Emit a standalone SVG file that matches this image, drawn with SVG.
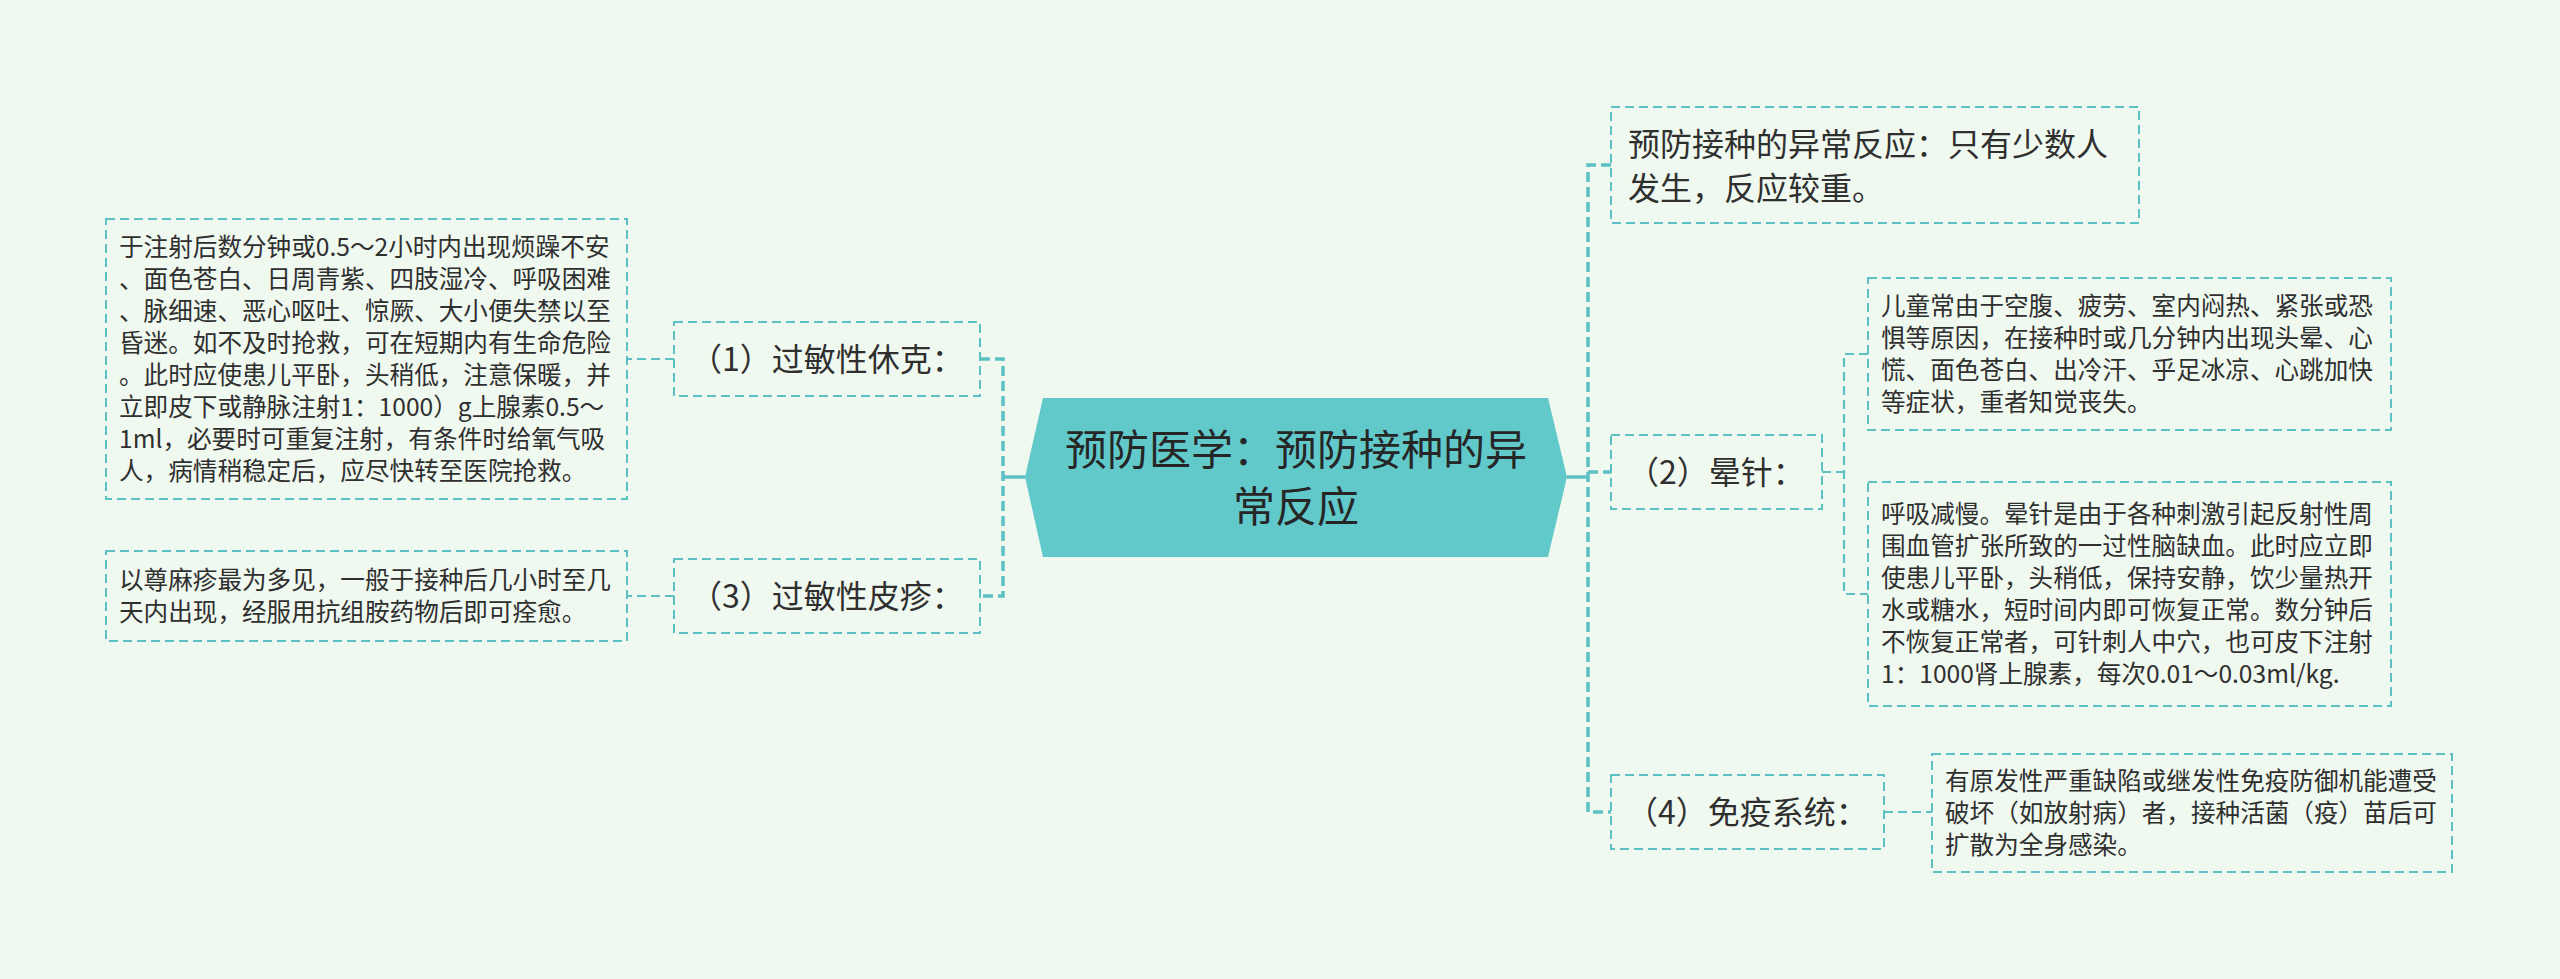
<svg xmlns="http://www.w3.org/2000/svg" width="2560" height="979" viewBox="0 0 2560 979">
<style>
.bg{fill:#f0f9ef}
.box{fill:none;stroke:#5cc0c4;stroke-width:2;stroke-dasharray:9 5}
.t{font-family:"Noto Sans CJK SC","Noto Sans",sans-serif;fill:#2f2f2f}
.leaf{font-size:24.6px}
.l1{font-size:32px}
.c{font-size:42px;text-anchor:middle;fill:#262626}
.m{text-anchor:middle}
.trunk{fill:none;stroke:#5cc0c4;stroke-width:3.5;stroke-dasharray:10 5}
.thin{fill:none;stroke:#5cc0c4;stroke-width:2.2;stroke-dasharray:9 5}
.solid{fill:none;stroke:#5cc0c4;stroke-width:3.5}
</style>
<rect class="bg" x="0" y="0" width="2560" height="979"/>
<g id="connectors">
<path class="solid" d="M1025 477 H1003"/>
<path class="trunk" d="M980 359 H1003 V596 H980"/>
<path class="thin" d="M674 359 H627"/>
<path class="thin" d="M674 596 H627"/>
<path class="solid" d="M1567 477 H1588"/>
<path class="trunk" d="M1611 165 H1588 V812 H1611"/>
<path class="trunk" d="M1588 472 H1611"/>
<path class="thin" d="M1822 472 H1844"/>
<path class="thin" d="M1868 354 H1844 V594 H1868"/>
<path class="thin" d="M1884 812 H1932"/>
</g>
<g id="center">
<polygon points="1025,477 1043,398 1548,398 1567,477 1548,557 1043,557" fill="#62c9cb"/>
<text class="t c" x="1296" y="465">预防医学：预防接种的异</text>
<text class="t c" x="1296" y="522">常反应</text>
</g>
<g id="n1">
<rect class="box" x="674" y="322" width="306" height="74"/>
<text class="t l1 m" x="827" y="371">（1）过敏性休克：</text>
</g>
<g id="n1leaf">
<rect class="box" x="106" y="219" width="521" height="280"/>
<text class="t leaf" x="119">
<tspan x="119" y="256">于注射后数分钟或0.5～2小时内出现烦躁不安</tspan>
<tspan x="119" y="288">、面色苍白、日周青紫、四肢湿冷、呼吸困难</tspan>
<tspan x="119" y="320">、脉细速、恶心呕吐、惊厥、大小便失禁以至</tspan>
<tspan x="119" y="352">昏迷。如不及时抢救，可在短期内有生命危险</tspan>
<tspan x="119" y="384">。此时应使患儿平卧，头稍低，注意保暖，并</tspan>
<tspan x="119" y="416">立即皮下或静脉注射1：1000）g上腺素0.5～</tspan>
<tspan x="119" y="448">1ml，必要时可重复注射，有条件时给氧气吸</tspan>
<tspan x="119" y="480">人，病情稍稳定后，应尽快转至医院抢救。</tspan>
</text>
</g>
<g id="n3">
<rect class="box" x="674" y="559" width="306" height="74"/>
<text class="t l1 m" x="827" y="608">（3）过敏性皮疹：</text>
</g>
<g id="n3leaf">
<rect class="box" x="106" y="551" width="521" height="90"/>
<text class="t leaf">
<tspan x="119" y="589">以尊麻疹最为多见，一般于接种后几小时至几</tspan>
<tspan x="119" y="621">天内出现，经服用抗组胺药物后即可痊愈。</tspan>
</text>
</g>
<g id="ntop">
<rect class="box" x="1611" y="107" width="528" height="116"/>
<text class="t l1">
<tspan x="1628" y="156">预防接种的异常反应：只有少数人</tspan>
<tspan x="1628" y="200">发生，反应较重。</tspan>
</text>
</g>
<g id="n2">
<rect class="box" x="1611" y="435" width="211" height="74"/>
<text class="t l1 m" x="1716" y="484">（2）晕针：</text>
</g>
<g id="n2leafa">
<rect class="box" x="1868" y="278" width="523" height="152"/>
<text class="t leaf">
<tspan x="1881" y="315">儿童常由于空腹、疲劳、室内闷热、紧张或恐</tspan>
<tspan x="1881" y="347">惧等原因，在接种时或几分钟内出现头晕、心</tspan>
<tspan x="1881" y="379">慌、面色苍白、出冷汗、乎足冰凉、心跳加快</tspan>
<tspan x="1881" y="411">等症状，重者知觉丧失。</tspan>
</text>
</g>
<g id="n2leafb">
<rect class="box" x="1868" y="482" width="523" height="224"/>
<text class="t leaf">
<tspan x="1881" y="523">呼吸减慢。晕针是由于各种刺激引起反射性周</tspan>
<tspan x="1881" y="555">围血管扩张所致的一过性脑缺血。此时应立即</tspan>
<tspan x="1881" y="587">使患儿平卧，头稍低，保持安静，饮少量热开</tspan>
<tspan x="1881" y="619">水或糖水，短时间内即可恢复正常。数分钟后</tspan>
<tspan x="1881" y="651">不恢复正常者，可针刺人中穴，也可皮下注射</tspan>
<tspan x="1881" y="683">1：1000肾上腺素，每次0.01～0.03ml/kg.</tspan>
</text>
</g>
<g id="n4">
<rect class="box" x="1611" y="775" width="273" height="74"/>
<text class="t l1 m" x="1747" y="824">（4）免疫系统：</text>
</g>
<g id="n4leaf">
<rect class="box" x="1932" y="754" width="520" height="118"/>
<text class="t leaf">
<tspan x="1945" y="790">有原发性严重缺陷或继发性免疫防御机能遭受</tspan>
<tspan x="1945" y="822">破坏（如放射病）者，接种活菌（疫）苗后可</tspan>
<tspan x="1945" y="854">扩散为全身感染。</tspan>
</text>
</g>
</svg>
